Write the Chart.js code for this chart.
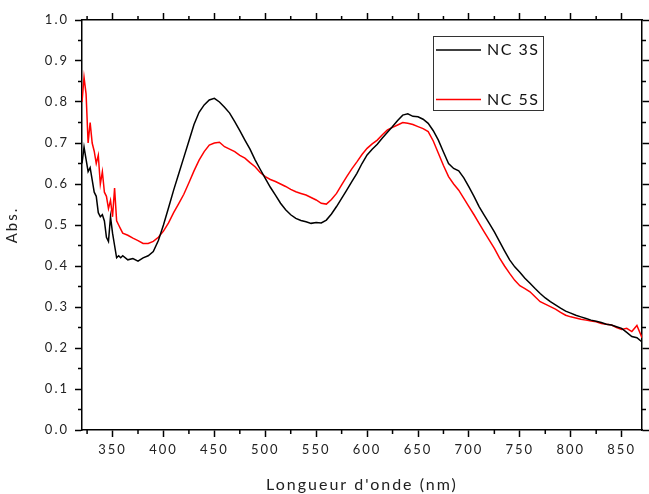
<!DOCTYPE html>
<html>
<head>
<meta charset="utf-8">
<script src="https://cdn.jsdelivr.net/npm/chart.js@4/dist/chart.umd.min.js"></script>
<style>
  html, body { margin: 0; padding: 0; background: #fff; }
  #wrap { width: 649px; height: 494px; }
</style>
</head>
<body>
<div id="wrap"><canvas id="spectre"></canvas></div>
<script>
// wavelengths (nm)
const wavelength = [320,322,324,326,328,330,332,334,336,338,340,342,344,346,348,350,352,354,356,358,360,
  365,370,375,380,385,390,395,400,405,410,415,420,425,430,435,440,445,450,455,460,465,470,475,480,485,490,495,
  500,505,510,515,520,525,530,535,540,545,550,555,560,565,570,575,580,585,590,595,600,605,610,615,620,625,
  630,635,640,645,650,655,660,665,670,675,680,685,690,695,700,705,710,715,720,725,730,735,740,745,750,755,
  760,765,770,775,780,785,790,795,800,805,810,815,820,825,830,835,840,845,850,855,860,865,870];

const nc3s = [0.65,0.69,0.66,0.63,0.64,0.61,0.58,0.57,0.53,0.52,0.525,0.51,0.47,0.46,0.52,0.48,0.45,0.42,0.425,0.42,0.425,
  0.415,0.418,0.412,0.42,0.425,0.435,0.462,0.50,0.542,0.585,0.625,0.665,0.705,0.745,0.775,0.793,0.805,0.809,0.80,0.787,0.773,0.752,0.73,0.707,0.685,0.659,0.636,
  0.614,0.592,0.573,0.553,0.537,0.525,0.516,0.511,0.508,0.504,0.506,0.505,0.512,0.527,0.545,0.565,0.585,0.606,0.626,0.65,0.671,0.685,0.697,0.712,0.726,0.74,
  0.755,0.768,0.771,0.765,0.764,0.758,0.748,0.73,0.707,0.678,0.650,0.638,0.632,0.615,0.593,0.57,0.545,0.524,0.504,0.483,0.46,0.437,0.415,0.398,0.385,0.37,
  0.358,0.345,0.333,0.322,0.313,0.305,0.297,0.29,0.285,0.28,0.276,0.272,0.268,0.265,0.262,0.258,0.256,0.252,0.248,0.238,0.228,0.225,0.215];

const nc5s = [0.80,0.86,0.82,0.70,0.75,0.70,0.68,0.65,0.67,0.60,0.63,0.58,0.57,0.54,0.56,0.52,0.59,0.51,0.50,0.49,0.48,
  0.475,0.468,0.462,0.455,0.455,0.46,0.47,0.485,0.505,0.53,0.552,0.575,0.603,0.632,0.658,0.679,0.695,0.700,0.702,0.691,0.685,0.679,0.67,0.663,0.652,0.642,0.628,
  0.618,0.611,0.606,0.60,0.594,0.587,0.581,0.577,0.573,0.567,0.561,0.553,0.551,0.562,0.577,0.598,0.618,0.637,0.654,0.672,0.687,0.698,0.707,0.72,0.732,0.738,
  0.744,0.750,0.748,0.745,0.740,0.735,0.728,0.705,0.675,0.645,0.618,0.600,0.585,0.565,0.545,0.525,0.504,0.483,0.463,0.443,0.42,0.40,0.382,0.365,0.352,0.345,
  0.337,0.325,0.313,0.307,0.301,0.295,0.287,0.28,0.276,0.273,0.27,0.268,0.266,0.264,0.26,0.258,0.256,0.25,0.245,0.248,0.24,0.255,0.225];

const seriesNames = ['NC 3S', 'NC 5S'];
const xTicks = [350,400,450,500,550,600,650,700,750,800,850];
const yTicks = [0,0.1,0.2,0.3,0.4,0.5,0.6,0.7,0.8,0.9,1.0];
const xMinor = [325,375,425,475,525,575,625,675,725,775,825,875];
const yMinor = [0.05,0.15,0.25,0.35,0.45,0.55,0.65,0.75,0.85,0.95];

function toPoints(ys) {
    return ys.map(function (y, i) { return { x: wavelength[i], y: y }; });
}

const tickFont = { family: 'Lato', size: 13 };
const frame = { color: '#000', width: 1.5 };
const outTicks = { drawOnChartArea: false, drawTicks: true, tickLength: 7, color: '#000', tickWidth: 1.5 };

// minor ticks + letter spacing + legend inside the plot
const extras = {
    id: 'extras',
    beforeDraw: function (chart) { chart.ctx.letterSpacing = '2px'; },
    afterDraw: function (chart) {
        const ctx = chart.ctx, a = chart.chartArea;
        const xs = chart.scales.x, ys = chart.scales.y;
        ctx.save();
        ctx.strokeStyle = '#000';
        ctx.lineWidth = 1.5;
        ctx.beginPath();
        xMinor.forEach(function (v) {
            if (v < xs.min || v > xs.max) return;
            const px = xs.getPixelForValue(v);
            ctx.moveTo(px, a.bottom); ctx.lineTo(px, a.bottom + 4);
            ctx.moveTo(px, a.top); ctx.lineTo(px, a.top - 4);
        });
        yMinor.forEach(function (v) {
            const py = ys.getPixelForValue(v);
            ctx.moveTo(a.left, py); ctx.lineTo(a.left - 4, py);
            ctx.moveTo(a.right, py); ctx.lineTo(a.right + 4, py);
        });
        ctx.stroke();

        // legend box
        const bx = a.left + 351, by = a.top + 16, bw = 110, bh = 74;
        ctx.lineWidth = 1;
        ctx.strokeStyle = '#333';
        ctx.fillStyle = '#fff';
        ctx.fillRect(bx, by, bw, bh);
        ctx.strokeRect(bx + 0.5, by + 0.5, bw, bh);
        ctx.font = '16px Lato';
        ctx.textBaseline = 'middle';
        ctx.letterSpacing = '1.5px';
        chart.data.datasets.forEach(function (ds, i) {
            const ly = by + 14 + i * 49.5;
            ctx.strokeStyle = ds.borderColor;
            ctx.lineWidth = 1.5;
            ctx.beginPath();
            ctx.moveTo(bx + 3, ly); ctx.lineTo(bx + 48, ly);
            ctx.stroke();
            ctx.fillStyle = '#111';
            ctx.fillText(ds.label, bx + 54, ly);
        });
        ctx.restore();
    }
};

const ctx = document.getElementById('spectre').getContext('2d');
const myChart = new Chart(ctx, {
    type: 'line',
    data: {
        datasets: [{
            label: seriesNames[0],
            data: toPoints(nc3s),
            borderColor: '#000000',
            borderWidth: 1.5,
            pointRadius: 0,
            tension: 0
        }, {
            label: seriesNames[1],
            data: toPoints(nc5s),
            borderColor: '#ff0000',
            borderWidth: 1.5,
            pointRadius: 0,
            tension: 0
        }]
    },
    options: {
        responsive: true,
        maintainAspectRatio: false,
        animation: false,
        layout: { padding: 0 },
        plugins: { legend: { display: false }, tooltip: { enabled: false } },
        scales: {
            x: {
                type: 'linear', position: 'bottom', min: 320, max: 870,
                afterBuildTicks: function (s) { s.ticks = xTicks.map(function (v) { return { value: v }; }); },
                afterFit: function (s) { s.height = 64; },
                grid: outTicks, border: frame,
                ticks: { font: tickFont, color: '#222', padding: 5, maxRotation: 0, autoSkip: false },
                title: { display: true, text: "Longueur d'onde (nm)", font: { family: 'Lato', size: 16 }, color: '#222', padding: { top: 0, bottom: 0 } }
            },
            x2: {
                type: 'linear', position: 'top', min: 320, max: 870,
                afterBuildTicks: function (s) { s.ticks = xTicks.map(function (v) { return { value: v }; }); },
                afterFit: function (s) { s.height = 20; },
                grid: outTicks, border: frame,
                ticks: { display: false }
            },
            y: {
                type: 'linear', position: 'left', min: 0, max: 1,
                afterBuildTicks: function (s) { s.ticks = yTicks.map(function (v) { return { value: v }; }); },
                afterFit: function (s) { s.width = 82; },
                grid: outTicks, border: frame,
                ticks: { font: tickFont, color: '#222', padding: 6, callback: function (v) { return v.toFixed(1); } },
                title: { display: true, text: 'Abs.', font: { family: 'Lato', size: 15 }, color: '#222', padding: { top: 3, bottom: 0 } }
            },
            y2: {
                type: 'linear', position: 'right', min: 0, max: 1,
                afterBuildTicks: function (s) { s.ticks = yTicks.map(function (v) { return { value: v }; }); },
                afterFit: function (s) { s.width = 7; },
                grid: outTicks, border: frame,
                ticks: { display: false }
            }
        }
    },
    plugins: [extras]
});
</script>
</body>
</html>
